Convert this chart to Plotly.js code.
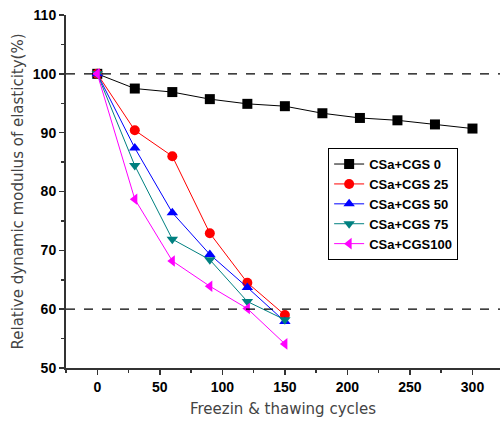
<!DOCTYPE html>
<html><head><meta charset="utf-8">
<script src="https://cdn.plot.ly/plotly-3.0.1.min.js"></script>
<style>body{margin:0;padding:0;background:#fff}#chart{width:502px;height:422px}</style>
</head><body><div id="chart"></div>
<script>
const cycles0 = [0,30,60,90,120,150,180,210,240,270,300];
const cycles = [0,30,60,90,120,150];
const cgs0 = [100,97.5,96.9,95.7,94.9,94.5,93.3,92.5,92.1,91.4,90.7];
const cgs25 = [100,90.4,86.0,72.9,64.5,59.0];
const cgs50 = [100,87.4,76.4,69.3,63.7,57.9];
const cgs75 = [100,84.4,71.9,68.4,61.3,58.2];
const cgs100 = [100,78.7,68.2,63.9,60.1,54.1];
const names = ['CSa+CGS 0','CSa+CGS 25','CSa+CGS 50','CSa+CGS 75','CSa+CGS100'];
const colors = ['#000000','#ff0000','#0000ff','#008080','#ff00ff'];
const symbols = ['square','circle','triangle-up','triangle-down','triangle-left'];
const xs = [cycles0,cycles,cycles,cycles,cycles];
const ys = [cgs0,cgs25,cgs50,cgs75,cgs100];
const traces = ys.map((y,i)=>({
  x: xs[i], y: y, name: names[i], type:'scatter', mode:'lines+markers',
  line:{color:colors[i], width:1},
  marker:{color:colors[i], symbol:symbols[i], size:10}
}));
const tickFont = {family:'Liberation Sans, Arial, sans-serif', size:14, color:'#000', weight:'bold'};
const titleFont = {family:'DejaVu Sans, sans-serif', size:15, color:'#444'};
const layout = {
  width:502, height:422,
  margin:{l:66, r:2, t:15, b:54},
  paper_bgcolor:'#fff', plot_bgcolor:'#fff',
  showlegend:true,
  legend:{x:0.604, y:0.623, xanchor:'left', yanchor:'top', bgcolor:'#fff', bordercolor:'#000', borderwidth:1,
    font:{family:'Liberation Sans Narrow, Liberation Sans, Arial, sans-serif', size:13, color:'#000', weight:'bold'}, tracegroupgap:0, itemwidth:30},
  xaxis:{range:[-25,322], tickvals:[0,50,100,150,200,250,300], ticks:'outside', ticklen:5, tickwidth:1.5, tickcolor:'#333',
    showline:true, linecolor:'#333', linewidth:2, showgrid:false, zeroline:false, tickfont:tickFont,
    minor:{ticks:'outside', ticklen:3, dtick:25, tick0:0, tickcolor:'#333', showgrid:false},
    title:{text:'Freezin &amp; thawing cycles', font:titleFont, standoff:10}},
  yaxis:{range:[50,110], dtick:10, ticks:'outside', ticklen:5, tickwidth:1.5, tickcolor:'#333',
    showline:true, linecolor:'#333', linewidth:2, showgrid:false, zeroline:false, tickfont:tickFont,
    minor:{ticks:'outside', ticklen:3, dtick:5, tickcolor:'#333', showgrid:false},
    title:{text:'Relative dynamic modulus of elasticity(%)', font:titleFont, standoff:6}},
  shapes:[
    {type:'line', xref:'paper', x0:0, x1:1, yref:'y', y0:100, y1:100, line:{color:'#000', width:1.2, dash:'dash'}},
    {type:'line', xref:'paper', x0:0, x1:1, yref:'y', y0:60, y1:60, line:{color:'#000', width:1.2, dash:'dash'}}
  ]
};
Plotly.newPlot('chart', traces, layout, {displayModeBar:false, staticPlot:true});
</script></body></html>
